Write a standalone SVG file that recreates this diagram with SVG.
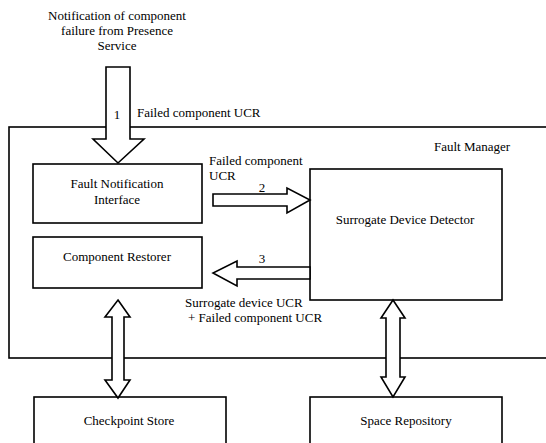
<svg xmlns="http://www.w3.org/2000/svg" width="546" height="443" viewBox="0 0 546 443">
  <style>
    .box { fill: #ffffff; stroke: #000000; stroke-width: 1.6; }
    .arrow { fill: #ffffff; stroke: #000000; stroke-width: 1.6; stroke-linejoin: miter; }
    text { font-family: "Liberation Serif", "Times New Roman", serif; font-size: 13px; fill: #000000; }
    .c { text-anchor: middle; }
  </style>
  <rect width="546" height="443" fill="#ffffff"/>

  <!-- Fault Manager container -->
  <g id="fault-manager">
    <rect class="box" x="9" y="127" width="560" height="231"/>
    <text class="c" x="472" y="151">Fault Manager</text>
  </g>

  <g id="fault-notification-interface">
    <rect class="box" x="33" y="164" width="169" height="59"/>
    <text class="c" x="117" y="188">Fault Notification</text>
    <text class="c" x="117" y="204">Interface</text>
  </g>

  <g id="component-restorer">
    <rect class="box" x="33" y="237" width="169" height="51"/>
    <text class="c" x="117" y="261">Component Restorer</text>
  </g>

  <g id="surrogate-device-detector">
    <rect class="box" x="310" y="169" width="192" height="131"/>
    <text class="c" x="405" y="224">Surrogate Device Detector</text>
  </g>

  <g id="checkpoint-store">
    <rect class="box" x="34" y="397" width="192" height="60"/>
    <text class="c" x="129" y="425">Checkpoint Store</text>
  </g>

  <g id="space-repository">
    <rect class="box" x="310" y="397" width="192" height="60"/>
    <text class="c" x="406" y="425">Space Repository</text>
  </g>

  <!-- Connectors: block arrows -->
  <g id="connectors">
    <polygon class="arrow" points="106,67 130,67 130,139 144,139 118,163 93,139 106,139"/>
    <polygon class="arrow" points="213,194 287,194 287,188 310,200 287,213 287,206 213,206"/>
    <polygon class="arrow" points="310,267 237,267 237,261 213,273 237,286 237,279 310,279"/>
    <polygon class="arrow" points="118,300 130,317 124,317 124,380 130,380 118,398 105,380 112,380 112,317 105,317"/>
    <polygon class="arrow" points="393,300 405,318 400,318 400,377 405,377 393,397 381,377 386,377 386,318 381,318"/>
  </g>

  <!-- Connector labels -->
  <g id="labels">
    <text class="c" x="117" y="20">Notification of component</text>
    <text class="c" x="117" y="35">failure from Presence</text>
    <text class="c" x="117" y="50">Service</text>
    <text class="c" x="117" y="119">1</text>
    <text x="137" y="117">Failed component UCR</text>
    <text x="209" y="165">Failed component</text>
    <text x="209" y="180">UCR</text>
    <text class="c" x="262" y="192">2</text>
    <text class="c" x="262" y="263">3</text>
    <text x="185" y="307">Surrogate device UCR</text>
    <text x="188" y="322">+ Failed component UCR</text>
  </g>
</svg>
